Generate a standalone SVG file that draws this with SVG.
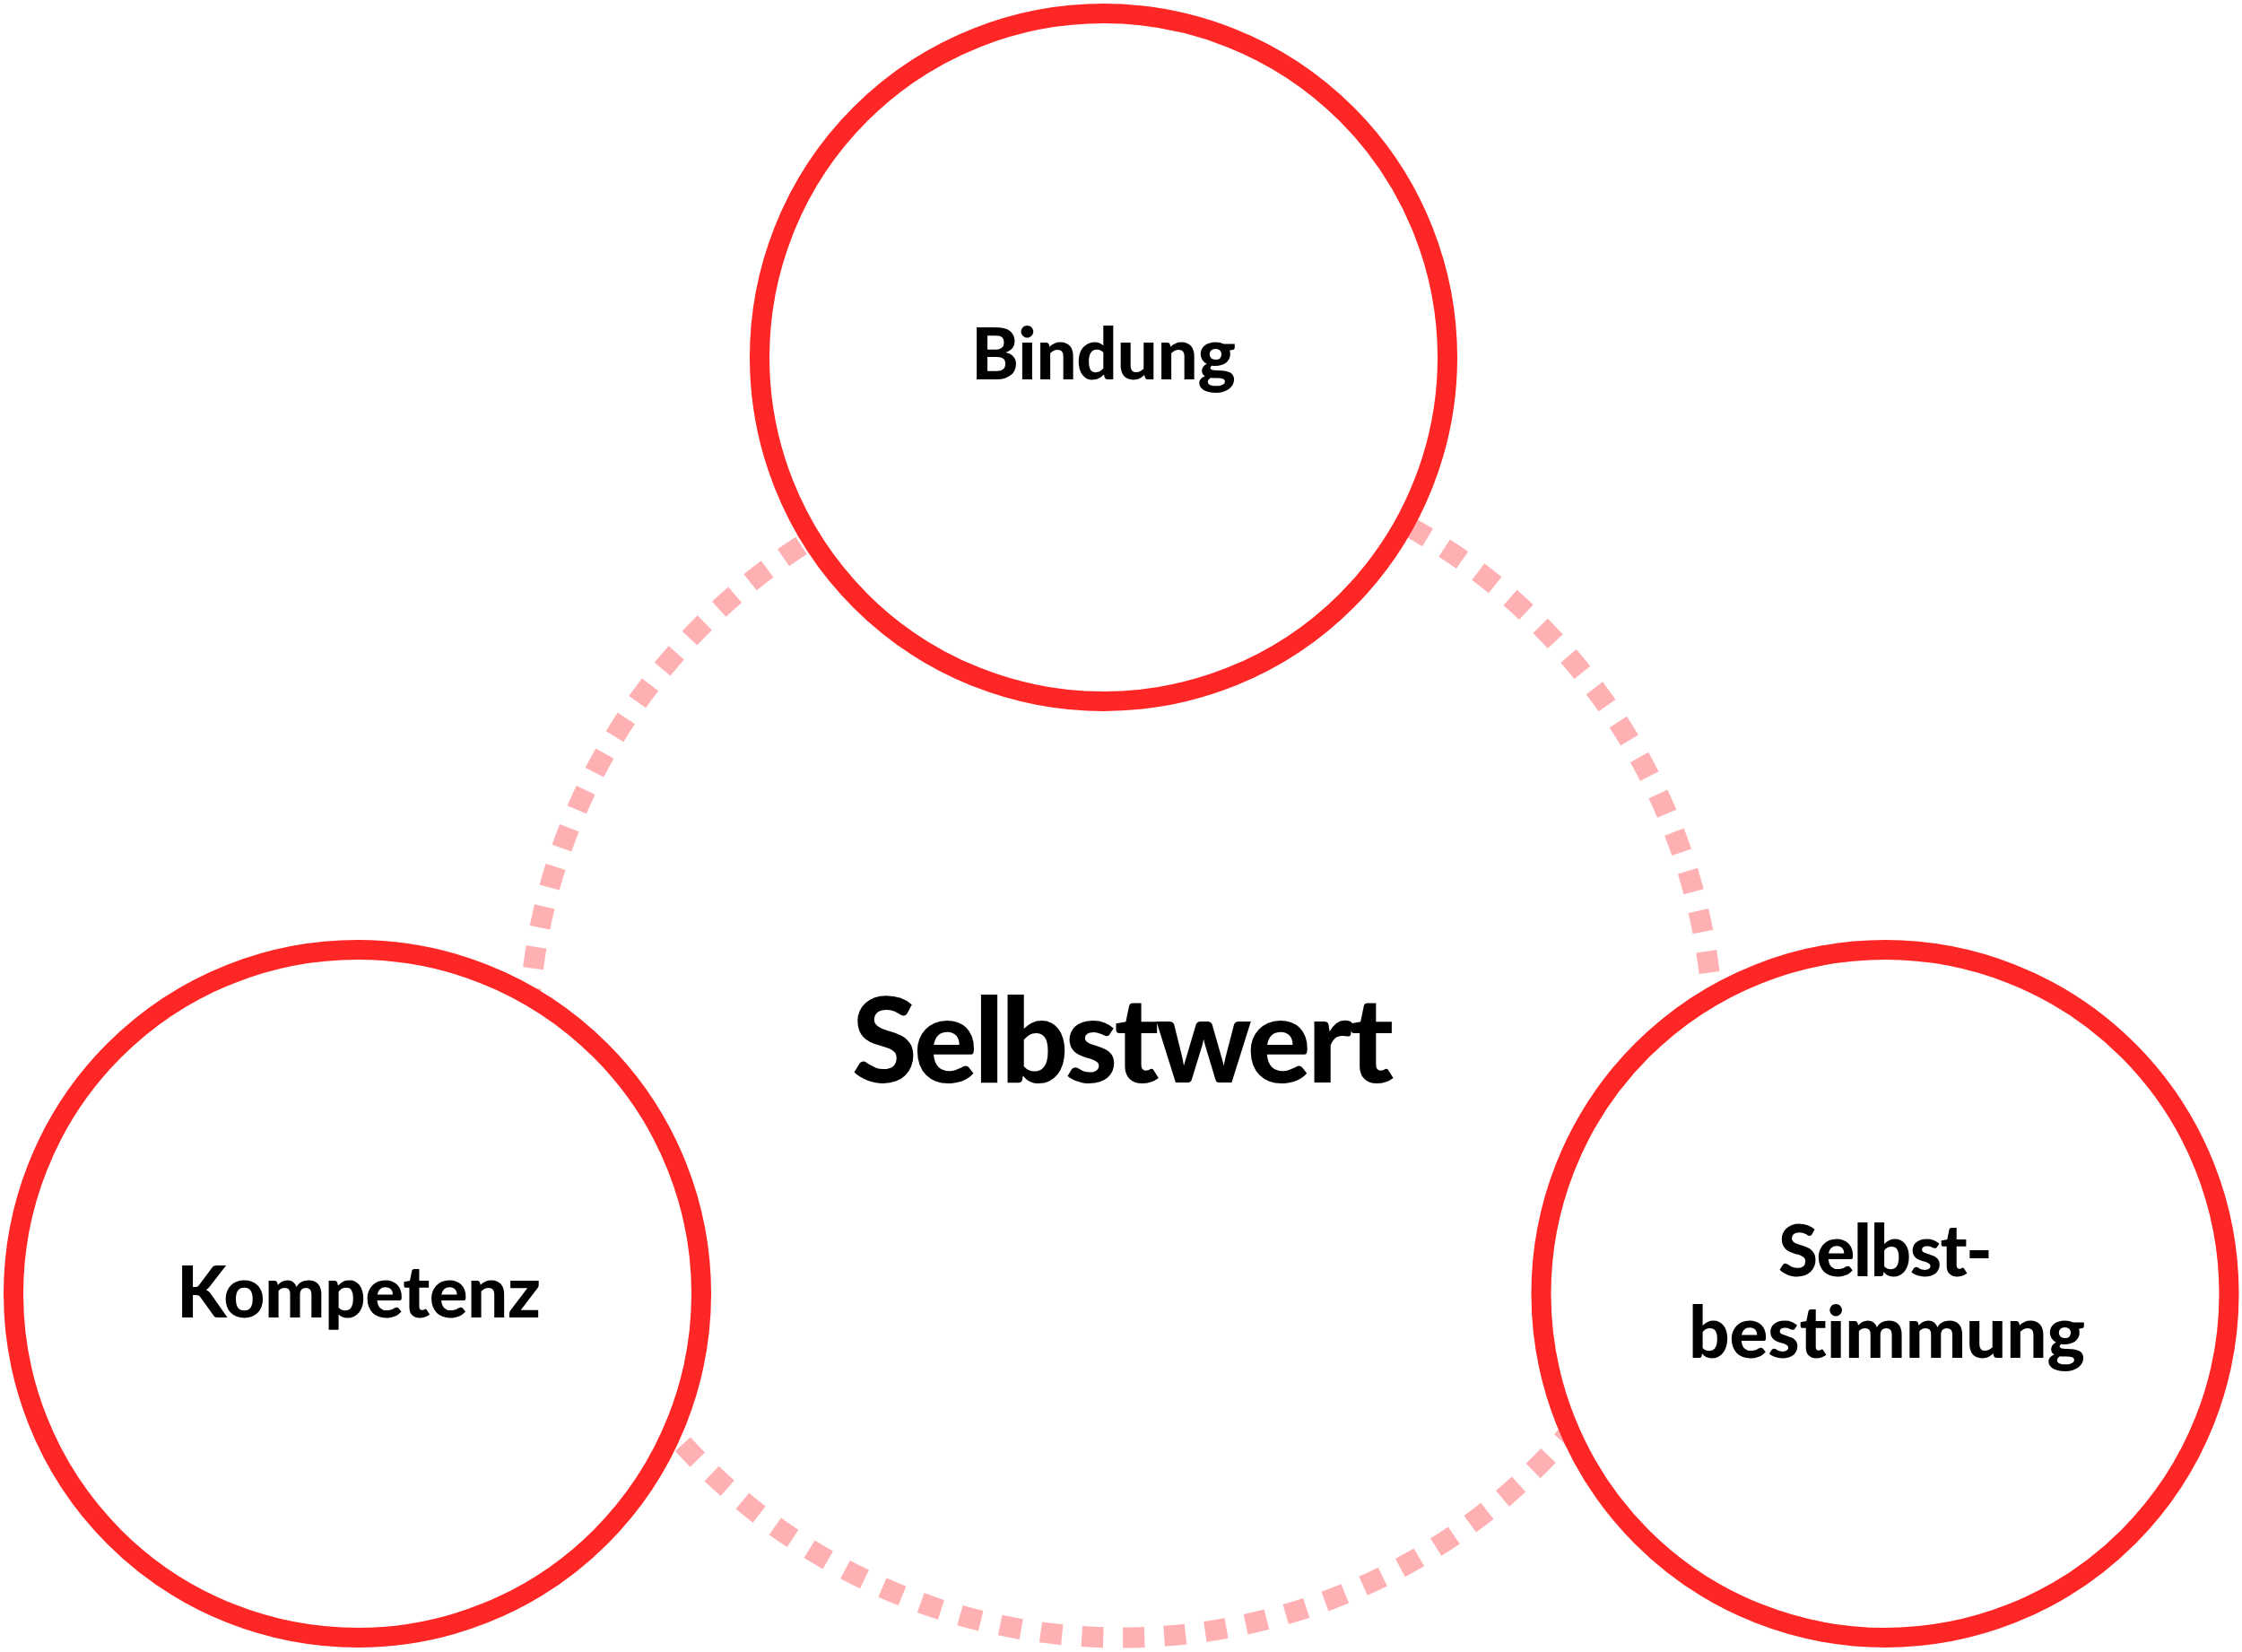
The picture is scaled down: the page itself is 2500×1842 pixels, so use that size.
<svg xmlns="http://www.w3.org/2000/svg" width="2500" height="1842" viewBox="0 0 2500 1842">
<style>
.node{fill:#FFFFFF;stroke:#FF2626;stroke-width:22}
.link{fill:none;stroke:#FFB0B3;stroke-width:23;stroke-dasharray:24 22}
.lbl{font-family:Lato,"Noto Sans","Liberation Sans",sans-serif;font-weight:900;fill:#000000;text-anchor:middle;font-variant-ligatures:none;font-feature-settings:"liga" 0,"clig" 0}
.small{font-size:80px}
.big{font-size:132px}
</style>
<rect width="2500" height="1842" fill="#FFFFFF"/>
<g id="connectors">
<circle class="link" cx="1250" cy="1165" r="661"/>
</g>
<g id="node-bindung">
<circle class="node" cx="1230.5" cy="398.5" r="383.5"/>
<text class="lbl small" x="1230.5" y="423" textLength="295" lengthAdjust="spacing">Bindung</text>
</g>
<g id="node-kompetenz">
<circle class="node" cx="398.5" cy="1442.5" r="383.5"/>
<text class="lbl small" x="400" y="1469" textLength="406" lengthAdjust="spacing">Kompetenz</text>
</g>
<g id="node-selbstbestimmung">
<circle class="node" cx="2102" cy="1442.5" r="383.5"/>
<text class="lbl small" x="2102.5" y="1423" textLength="239" lengthAdjust="spacing">Selbst-</text>
<text class="lbl small" x="2104" y="1514" textLength="442" lengthAdjust="spacing">bestimmung</text>
</g>
<g id="center-label">
<text class="lbl big" x="1252" y="1207" textLength="604" lengthAdjust="spacing">Selbstwert</text>
</g>
</svg>
